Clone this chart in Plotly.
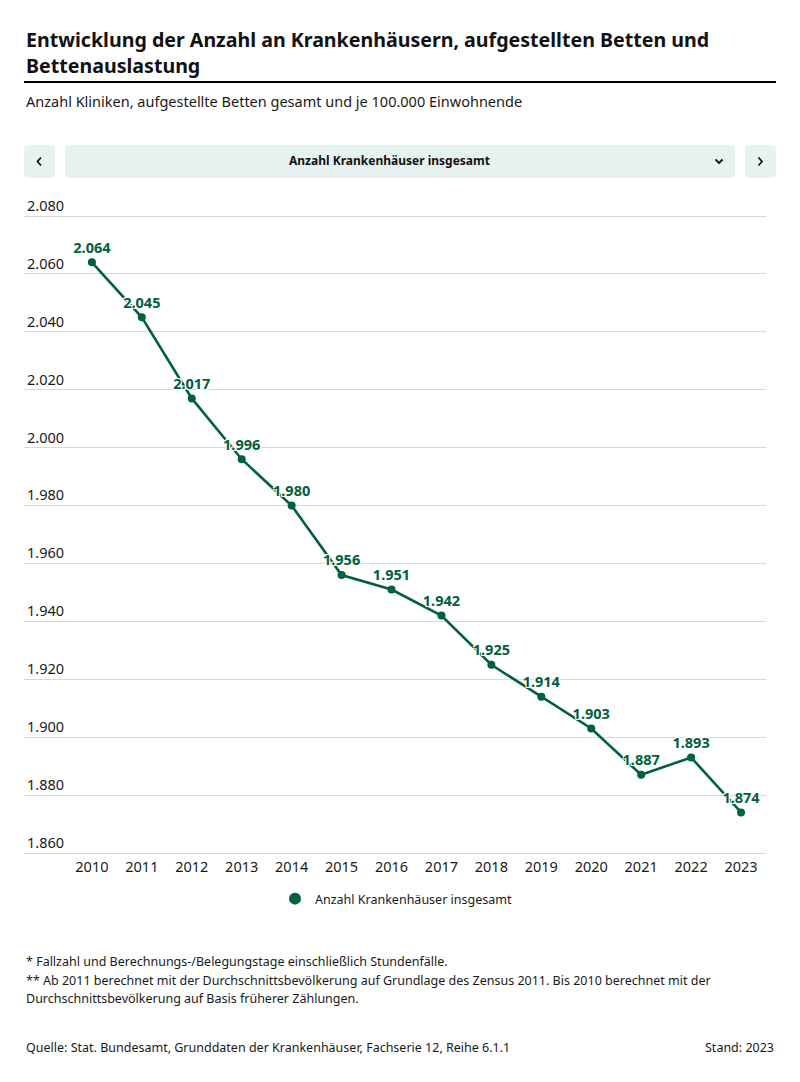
import plotly.graph_objects as go

years = ["2010", "2011", "2012", "2013", "2014", "2015", "2016",
         "2017", "2018", "2019", "2020", "2021", "2022", "2023"]
hospitals = [2064, 2045, 2017, 1996, 1980, 1956, 1951,
             1942, 1925, 1914, 1903, 1887, 1893, 1874]
label_texts = ["2.064", "2.045", "2.017", "1.996", "1.980", "1.956", "1.951",
               "1.942", "1.925", "1.914", "1.903", "1.887", "1.893", "1.874"]
y_ticks = [1860, 1880, 1900, 1920, 1940, 1960, 1980, 2000, 2020, 2040, 2060, 2080]
y_tick_labels = ["1.860", "1.880", "1.900", "1.920", "1.940", "1.960", "1.980",
                 "2.000", "2.020", "2.040", "2.060", "2.080"]
series_name = "Anzahl Krankenhäuser insgesamt"

OFF = 8  # default page body margin
W, H = 800 - 2 * OFF, 1082 - 2 * OFF
GREEN = "#00613f"
FONT = "Noto Sans"
TXT = "#1a1a1a"


def px(x):
    return (x - OFF) / W


def py(y):
    return 1 - (y - OFF) / H


def rounded_rect(x0, y0, x1, y1, r=4):
    rx, ry = r / W, r / H
    X0, X1 = px(x0), px(x1)
    Y0, Y1 = py(y0), py(y1)
    return (f"M {X0+rx} {Y0} L {X1-rx} {Y0} Q {X1} {Y0} {X1} {Y0-ry} "
            f"L {X1} {Y1+ry} Q {X1} {Y1} {X1-rx} {Y1} "
            f"L {X0+rx} {Y1} Q {X0} {Y1} {X0} {Y1+ry} "
            f"L {X0} {Y0-ry} Q {X0} {Y0} {X0+rx} {Y0} Z")


def poly(points):
    return "M " + " L ".join(f"{px(a)} {py(b)}" for a, b in points)


# plot area: gridline 2080 at y=216, 1860 at y=853
ppu = (853 - 216) / 220.0
top_px = 216 - 26
bot_px = 853 + 3
y_range = [1860 - (bot_px - 853) / ppu, 2080 + (216 - top_px) / ppu]

fig = go.Figure()
fig.add_trace(go.Scatter(
    x=years, y=hospitals, mode="lines+markers+text",
    name=series_name, showlegend=False,
    line=dict(color=GREEN, width=2.6),
    marker=dict(color=GREEN, size=8),
    text=label_texts, textposition="top center",
    textfont=dict(family=FONT, size=14.5, color=GREEN, weight="bold",
                  shadow="-1px -1px 0 #fff, 1px -1px 0 #fff, -1px 1px 0 #fff, 1px 1px 0 #fff"),
    hoverinfo="x+y",
))
# legend entry (marker only)
fig.add_trace(go.Scatter(
    x=[None], y=[None], mode="markers", name=series_name,
    marker=dict(color=GREEN, size=11), showlegend=True, hoverinfo="skip",
))

shapes = [
    dict(type="line", xref="paper", yref="paper", x0=px(24), x1=px(776),
         y0=py(82), y1=py(82), line=dict(color="#000000", width=2)),
]
BTN = "#e7f3f0"
for (a, b) in [(24, 55), (65, 735), (745, 776)]:
    shapes.append(dict(type="path", xref="paper", yref="paper",
                       path=rounded_rect(a, 145, b, 178, 4),
                       fillcolor=BTN, line=dict(width=0), layer="below"))
chev = dict(color="#111111", width=1.8)
shapes.append(dict(type="path", xref="paper", yref="paper",
                   path=poly([(41, 157.5), (37.5, 161.5), (41, 165.5)]), line=chev))
shapes.append(dict(type="path", xref="paper", yref="paper",
                   path=poly([(758.5, 157.5), (762, 161.5), (758.5, 165.5)]), line=chev))
shapes.append(dict(type="path", xref="paper", yref="paper",
                   path=poly([(715.5, 159.5), (719, 163), (722.5, 159.5)]), line=chev))

FN = 12.5
annotations = [
    dict(text="<b>Entwicklung der Anzahl an Krankenhäusern, aufgestellten Betten und</b>",
         x=px(24), y=py(40), xanchor="left", yanchor="middle",
         font=dict(family=FONT, size=19.6, color="#111111")),
    dict(text="<b>Bettenauslastung</b>",
         x=px(24), y=py(66), xanchor="left", yanchor="middle",
         font=dict(family=FONT, size=19.6, color="#111111")),
    dict(text="Anzahl Kliniken, aufgestellte Betten gesamt und je 100.000 Einwohnende",
         x=px(24), y=py(101), xanchor="left", yanchor="middle",
         font=dict(family=FONT, size=14.5, color=TXT)),
    dict(text="<b>Anzahl Krankenhäuser insgesamt</b>",
         x=px(389), y=py(161), xanchor="center", yanchor="middle",
         font=dict(family=FONT, size=12, color="#111111")),
    dict(text="* Fallzahl und Berechnungs-/Belegungstage einschließlich Stundenfälle.",
         x=px(24), y=py(961), xanchor="left", yanchor="middle",
         font=dict(family=FONT, size=FN, color=TXT)),
    dict(text="** Ab 2011 berechnet mit der Durchschnittsbevölkerung auf Grundlage des Zensus 2011. Bis 2010 berechnet mit der",
         x=px(24), y=py(980), xanchor="left", yanchor="middle",
         font=dict(family=FONT, size=FN, color=TXT)),
    dict(text="Durchschnittsbevölkerung auf Basis früherer Zählungen.",
         x=px(24), y=py(998), xanchor="left", yanchor="middle",
         font=dict(family=FONT, size=FN, color=TXT)),
    dict(text="Quelle: Stat. Bundesamt, Grunddaten der Krankenhäuser, Fachserie 12, Reihe 6.1.1",
         x=px(24), y=py(1047), xanchor="left", yanchor="middle",
         font=dict(family=FONT, size=FN, color=TXT)),
    dict(text="Stand: 2023",
         x=px(776), y=py(1047), xanchor="right", yanchor="middle",
         font=dict(family=FONT, size=FN, color=TXT)),
]
for a in annotations:
    a.update(xref="paper", yref="paper", showarrow=False)

fig.update_layout(
    width=W, height=H,
    margin=dict(l=0, r=0, t=0, b=0),
    paper_bgcolor="white", plot_bgcolor="white",
    font=dict(family=FONT, size=13, color=TXT),
    shapes=shapes, annotations=annotations,
    showlegend=True,
    legend=dict(orientation="h", x=px(396), xanchor="center", y=py(899), yanchor="middle",
                font=dict(family=FONT, size=12.5, color=TXT), itemsizing="constant"),
    xaxis=dict(type="category", domain=[px(24), px(766)], range=[-1.36, 13.5],
               showgrid=False, zeroline=False, showline=False, ticks="",
               tickfont=dict(family=FONT, size=14.5, color=TXT), fixedrange=True),
    yaxis=dict(domain=[py(bot_px), py(top_px)], range=y_range,
               tickvals=y_ticks, ticktext=y_tick_labels,
               ticklabelposition="inside top", ticks="",
               showgrid=True, gridcolor="#d9d9d9", gridwidth=1,
               zeroline=False, showline=False,
               tickfont=dict(family=FONT, size=14.5, color=TXT), fixedrange=True),
)

fig.write_html("out.html")
